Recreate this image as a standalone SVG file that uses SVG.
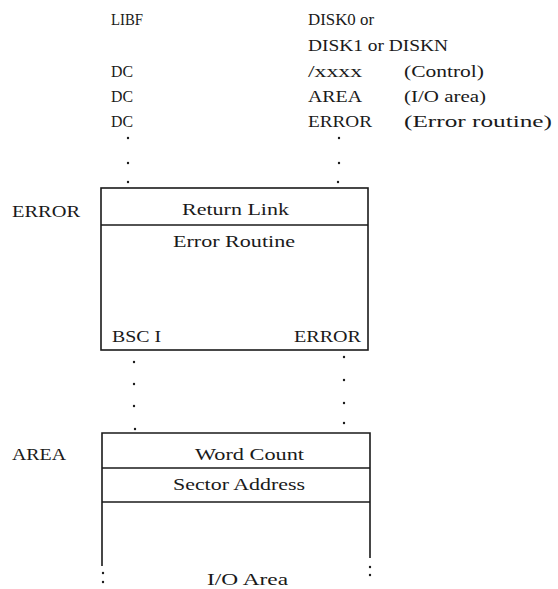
<svg xmlns="http://www.w3.org/2000/svg" width="558" height="589" viewBox="0 0 558 589">
<style>
text{font-family:"Liberation Serif","DejaVu Serif",serif;font-size:16px;fill:#1a1a1a}
.ln{stroke:#1a1a1a;stroke-width:1.6;fill:none}
.dot{fill:#1a1a1a}
</style>
<rect width="558" height="589" fill="#fff"/>
<g id="call-sequence">
<text x="111" y="25" textLength="32" lengthAdjust="spacingAndGlyphs">LIBF</text>
<text x="308" y="25" textLength="66" lengthAdjust="spacingAndGlyphs">DISK0 or</text>
<text x="308" y="51" textLength="140" lengthAdjust="spacingAndGlyphs">DISK1 or DISKN</text>
<text x="111" y="77" textLength="22" lengthAdjust="spacingAndGlyphs">DC</text>
<text x="308" y="77" textLength="54" lengthAdjust="spacingAndGlyphs">/xxxx</text>
<text x="404" y="77" textLength="80" lengthAdjust="spacingAndGlyphs">(Control)</text>
<text x="111" y="102" textLength="22" lengthAdjust="spacingAndGlyphs">DC</text>
<text x="308" y="102" textLength="54" lengthAdjust="spacingAndGlyphs">AREA</text>
<text x="404" y="102" textLength="82" lengthAdjust="spacingAndGlyphs">(I/O area)</text>
<text x="111" y="127" textLength="22" lengthAdjust="spacingAndGlyphs">DC</text>
<text x="308" y="127" textLength="64" lengthAdjust="spacingAndGlyphs">ERROR</text>
<text x="404" y="127" textLength="148" lengthAdjust="spacingAndGlyphs">(Error routine)</text>
</g>
<g id="error-routine">
<text x="12" y="217" textLength="68" lengthAdjust="spacingAndGlyphs">ERROR</text>
<rect class="ln" x="101" y="188" width="267" height="162"/>
<line class="ln" x1="101" y1="225" x2="368" y2="225"/>
<text x="182" y="215" textLength="107" lengthAdjust="spacingAndGlyphs">Return Link</text>
<text x="173" y="247" textLength="122" lengthAdjust="spacingAndGlyphs">Error Routine</text>
<text x="112" y="342" textLength="49" lengthAdjust="spacingAndGlyphs">BSC I</text>
<text x="294" y="342" textLength="67" lengthAdjust="spacingAndGlyphs">ERROR</text>
</g>
<g id="io-area">
<text x="12" y="460" textLength="54" lengthAdjust="spacingAndGlyphs">AREA</text>
<path class="ln" d="M102,566 V433 H370 V558"/>
<line class="ln" x1="102" y1="468" x2="370" y2="468"/>
<line class="ln" x1="102" y1="502" x2="370" y2="502"/>
<text x="195" y="460" textLength="109" lengthAdjust="spacingAndGlyphs">Word Count</text>
<text x="173" y="490" textLength="132" lengthAdjust="spacingAndGlyphs">Sector Address</text>
<text x="207" y="585" textLength="81" lengthAdjust="spacingAndGlyphs">I/O Area</text>
</g>
<g id="connectors">
<circle class="dot" cx="128" cy="138" r="1.2"/>
<circle class="dot" cx="128" cy="163" r="1.2"/>
<circle class="dot" cx="128" cy="182" r="1.2"/>
<circle class="dot" cx="339" cy="138" r="1.2"/>
<circle class="dot" cx="339" cy="163" r="1.2"/>
<circle class="dot" cx="338" cy="182" r="1.2"/>
<circle class="dot" cx="134" cy="362" r="1.2"/>
<circle class="dot" cx="134" cy="384" r="1.2"/>
<circle class="dot" cx="134" cy="406" r="1.2"/>
<circle class="dot" cx="135" cy="429" r="1.2"/>
<circle class="dot" cx="344" cy="357" r="1.2"/>
<circle class="dot" cx="344" cy="380" r="1.2"/>
<circle class="dot" cx="344" cy="403" r="1.2"/>
<circle class="dot" cx="344" cy="423" r="1.2"/>
<circle class="dot" cx="103" cy="573" r="1.2"/>
<circle class="dot" cx="103" cy="582" r="1.2"/>
<circle class="dot" cx="370" cy="567" r="1.2"/>
<circle class="dot" cx="370" cy="575" r="1.2"/>
</g>
</svg>
